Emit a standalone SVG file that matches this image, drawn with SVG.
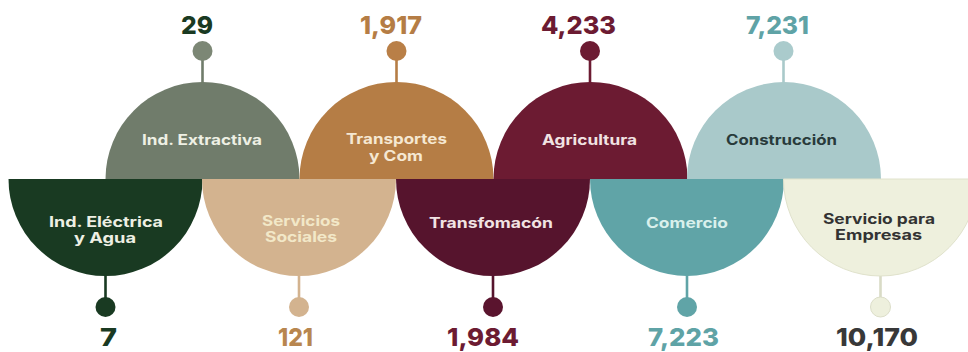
<svg xmlns="http://www.w3.org/2000/svg" width="968" height="352" viewBox="0 0 968 352">
<style>
.lbl{font-family:Inter,"Open Sans","Liberation Sans",sans-serif;font-weight:700;font-size:14px;text-anchor:middle}
.num{font-family:Inter,"Open Sans","Liberation Sans",sans-serif;font-weight:800;font-size:25px;text-anchor:middle}
.stem{stroke-width:2.6;fill:none}
</style>
<rect width="968" height="352" fill="#ffffff"/>
<g id="connectors">
<line class="stem" x1="202.5" y1="60" x2="202.5" y2="83" stroke="#707c6b"/>
<line class="stem" x1="396.5" y1="60" x2="396.5" y2="83" stroke="#b57d45"/>
<line class="stem" x1="590" y1="60" x2="590" y2="83" stroke="#6c1b32"/>
<line class="stem" x1="783.5" y1="60" x2="783.5" y2="83" stroke="#a9c9ca"/>
<line class="stem" x1="105.5" y1="275" x2="105.5" y2="298" stroke="#193a22"/>
<line class="stem" x1="299" y1="275" x2="299" y2="298" stroke="#d3b38f"/>
<line class="stem" x1="493" y1="275" x2="493" y2="298" stroke="#56142d"/>
<line class="stem" x1="687" y1="275" x2="687" y2="298" stroke="#60a4a7"/>
<line class="stem" x1="880.5" y1="275" x2="880.5" y2="298" stroke="#d9dbc6"/>
</g>
<g id="ind-extractiva">
<path d="M105.5 179 A97 97 0 0 1 299.5 179 Z" fill="#707c6b"/>
<text class="lbl" x="202" y="145" fill="#eef0e4" textLength="120" lengthAdjust="spacingAndGlyphs">Ind. Extractiva</text>
<circle cx="202.5" cy="51" r="10" fill="#7c8775"/>
<text class="num" x="197" y="34" fill="#1a3a22" textLength="32" lengthAdjust="spacingAndGlyphs">29</text>
</g>
<g id="transportes">
<path d="M299.5 179 A97 97 0 0 1 493.5 179 Z" fill="#b57d45"/>
<text class="lbl" x="396.5" y="144" fill="#f5e8d2" textLength="101" lengthAdjust="spacingAndGlyphs">Transportes</text>
<text class="lbl" x="396" y="161" fill="#f5e8d2" textLength="54" lengthAdjust="spacingAndGlyphs">y Com</text>
<circle cx="396.5" cy="51" r="10" fill="#b97f47"/>
<text class="num" x="391" y="34" fill="#b57d45" textLength="62" lengthAdjust="spacingAndGlyphs">1,917</text>
</g>
<g id="agricultura">
<path d="M493.5 179 A97 97 0 0 1 687.5 179 Z" fill="#6c1b32"/>
<text class="lbl" x="589.5" y="145" fill="#f1e3e3" textLength="95" lengthAdjust="spacingAndGlyphs">Agricultura</text>
<circle cx="590" cy="51" r="10" fill="#6c1b32"/>
<text class="num" x="578.5" y="34" fill="#6c1b32" textLength="75" lengthAdjust="spacingAndGlyphs">4,233</text>
</g>
<g id="construccion">
<path d="M687 179 A97 97 0 0 1 881 179 Z" fill="#a9c9ca"/>
<text class="lbl" x="781.5" y="145" fill="#283a3b" textLength="111" lengthAdjust="spacingAndGlyphs">Construcción</text>
<circle cx="783.5" cy="51" r="10" fill="#aacbcc"/>
<text class="num" x="777.5" y="34" fill="#5fa3a6" textLength="63" lengthAdjust="spacingAndGlyphs">7,231</text>
</g>
<g id="ind-electrica">
<path d="M8.5 179 A97 97 0 0 0 202.5 179 Z" fill="#193a22"/>
<text class="lbl" x="106" y="227" fill="#eef0e4" textLength="114" lengthAdjust="spacingAndGlyphs">Ind. Eléctrica</text>
<text class="lbl" x="105" y="243" fill="#eef0e4" textLength="62" lengthAdjust="spacingAndGlyphs">y Agua</text>
<circle cx="105.5" cy="307" r="10" fill="#193a22"/>
<text class="num" x="108.5" y="346" fill="#1a3a22" textLength="17" lengthAdjust="spacingAndGlyphs">7</text>
</g>
<g id="servicios-sociales">
<path d="M202 179 A97 97 0 0 0 396 179 Z" fill="#d3b38f"/>
<text class="lbl" x="301" y="226" fill="#f2e8c8" textLength="78" lengthAdjust="spacingAndGlyphs">Servicios</text>
<text class="lbl" x="301" y="242" fill="#f2e8c8" textLength="72" lengthAdjust="spacingAndGlyphs">Sociales</text>
<circle cx="299" cy="307" r="10" fill="#d3b38f"/>
<text class="num" x="295.5" y="346" fill="#b8864f" textLength="35" lengthAdjust="spacingAndGlyphs">121</text>
</g>
<g id="transformacion">
<path d="M396 179 A97 97 0 0 0 590 179 Z" fill="#56142d"/>
<text class="lbl" x="491" y="228" fill="#f1e3e3" textLength="124" lengthAdjust="spacingAndGlyphs">Transfomacón</text>
<circle cx="493" cy="307" r="10" fill="#5a142e"/>
<text class="num" x="483" y="346" fill="#6c1b32" textLength="72" lengthAdjust="spacingAndGlyphs">1,984</text>
</g>
<g id="comercio">
<path d="M590 179 A97 97 0 0 0 784 179 Z" fill="#60a4a7"/>
<text class="lbl" x="687" y="228" fill="#d9f0ec" textLength="82" lengthAdjust="spacingAndGlyphs">Comercio</text>
<circle cx="687" cy="307" r="10" fill="#60a4a7"/>
<text class="num" x="683.5" y="346" fill="#5fa3a6" textLength="71" lengthAdjust="spacingAndGlyphs">7,223</text>
</g>
<g id="servicio-empresas">
<path d="M783.5 179 A97 97 0 0 0 977.5 179 Z" fill="#eef0dd" stroke="#e0e2cc" stroke-width="1"/>
<text class="lbl" x="879" y="224" fill="#333333" textLength="112" lengthAdjust="spacingAndGlyphs">Servicio para</text>
<text class="lbl" x="878.5" y="240" fill="#333333" textLength="87" lengthAdjust="spacingAndGlyphs">Empresas</text>
<circle cx="880.5" cy="307" r="10" fill="#eef0dd" stroke="#dcdec8" stroke-width="1"/>
<text class="num" x="877" y="346" fill="#383838" textLength="82" lengthAdjust="spacingAndGlyphs">10,170</text>
</g>
</svg>
